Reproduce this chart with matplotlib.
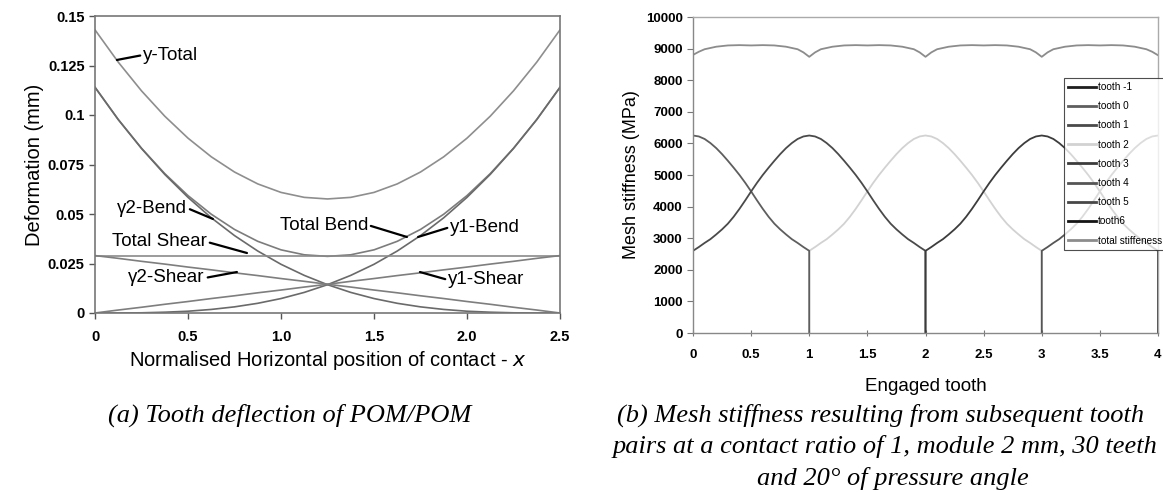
import matplotlib

matplotlib.use("Agg")
import matplotlib.pyplot as plt
import numpy as np

plt.rcParams["font.family"] = ["Liberation Sans", "DejaVu Sans"]

# (a) tooth deflection (mm)
pos_a = [0.0, 0.125, 0.25, 0.375, 0.5, 0.625, 0.75, 0.875, 1.0, 1.125, 1.25,
         1.375, 1.5, 1.625, 1.75, 1.875, 2.0, 2.125, 2.25, 2.375, 2.5]
y_total = [0.1430, 0.1267, 0.1122, 0.0994, 0.0883, 0.0789, 0.0712, 0.0652, 0.0609, 0.0584, 0.0576,
           0.0584, 0.0609, 0.0652, 0.0712, 0.0789, 0.0883, 0.0994, 0.1122, 0.1267, 0.1430]
total_bend = [0.1140, 0.0977, 0.0832, 0.0704, 0.0593, 0.0499, 0.0422, 0.0362, 0.0319, 0.0294, 0.0286,
              0.0294, 0.0319, 0.0362, 0.0422, 0.0499, 0.0593, 0.0704, 0.0832, 0.0977, 0.1140]
y1_bend = [0.0, 0.0000, 0.0001, 0.0004, 0.0009, 0.0018, 0.0031, 0.0049, 0.0073, 0.0104, 0.0143,
           0.0190, 0.0246, 0.0313, 0.0391, 0.0481, 0.0584, 0.0700, 0.0831, 0.0977, 0.1140]
y2_bend = [0.1140, 0.0977, 0.0831, 0.0700, 0.0584, 0.0481, 0.0391, 0.0313, 0.0246, 0.0190, 0.0143,
           0.0104, 0.0073, 0.0049, 0.0031, 0.0018, 0.0009, 0.0004, 0.0001, 0.0000, 0.0]
total_shear = [0.029] * 21
y1_shear = [0.0, 0.0015, 0.0029, 0.0044, 0.0058, 0.0073, 0.0087, 0.0102, 0.0116, 0.0131, 0.0145,
            0.0160, 0.0174, 0.0189, 0.0203, 0.0218, 0.0232, 0.0247, 0.0261, 0.0276, 0.0290]
y2_shear = [0.0290, 0.0276, 0.0261, 0.0247, 0.0232, 0.0218, 0.0203, 0.0189, 0.0174, 0.0160, 0.0145,
            0.0131, 0.0116, 0.0102, 0.0087, 0.0073, 0.0058, 0.0044, 0.0029, 0.0015, 0.0]

# (b) single tooth stiffness over its engagement (0..2 teeth), MPa
tooth_pos = [0.0, 0.0, 0.05, 0.1, 0.15, 0.2, 0.25, 0.3, 0.35, 0.4, 0.45, 0.5,
             0.55, 0.6, 0.65, 0.7, 0.75, 0.8, 0.85, 0.9, 0.95, 1.0,
             1.05, 1.1, 1.15, 1.2, 1.25, 1.3, 1.35, 1.4, 1.45, 1.5,
             1.55, 1.6, 1.65, 1.7, 1.75, 1.8, 1.85, 1.9, 1.95, 2.0, 2.0]
tooth_stiff = [0, 2600, 2720, 2850, 2970, 3120, 3280, 3460, 3680, 3930, 4200, 4480,
               4750, 5000, 5230, 5450, 5660, 5850, 6010, 6140, 6220, 6250,
               6220, 6140, 6010, 5850, 5660, 5450, 5230, 5000, 4750, 4480,
               4200, 3930, 3680, 3460, 3280, 3120, 2970, 2850, 2720, 2600, 0]
teeth = ["tooth -1", "tooth 0", "tooth 1", "tooth 2", "tooth 3", "tooth 4", "tooth 5", "tooth6"]
tooth_start = [-2, -1, 0, 1, 2, 3, 4, 5]
tooth_colors = ["#1e1e1e", "#5e5e5e", "#4a4a4a", "#d2d2d2", "#3c3c3c", "#555555", "#474747", "#151515"]

total_pos = [0.0, 0.05, 0.1, 0.2, 0.3, 0.4, 0.5, 0.6, 0.7, 0.8, 0.9, 0.95,
             1.0, 1.05, 1.1, 1.2, 1.3, 1.4, 1.5, 1.6, 1.7, 1.8, 1.9, 1.95,
             2.0, 2.05, 2.1, 2.2, 2.3, 2.4, 2.5, 2.6, 2.7, 2.8, 2.9, 2.95,
             3.0, 3.05, 3.1, 3.2, 3.3, 3.4, 3.5, 3.6, 3.7, 3.8, 3.9, 3.95, 4.0]
total_stiff = [8800, 8900, 8980, 9060, 9100, 9110, 9100, 9110, 9100, 9060, 8980, 8880,
               8740, 8880, 8980, 9060, 9100, 9110, 9100, 9110, 9100, 9060, 8980, 8880,
               8740, 8880, 8980, 9060, 9100, 9110, 9100, 9110, 9100, 9060, 8980, 8880,
               8740, 8880, 8980, 9060, 9100, 9110, 9100, 9110, 9100, 9060, 8980, 8900, 8790]

W, H = 1163, 492
fig = plt.figure(figsize=(W / 100, H / 100), dpi=100, facecolor="white")


def px_rect(x0, y0, x1, y1):
    return [x0 / W, 1 - y1 / H, (x1 - x0) / W, (y1 - y0) / H]


# ---------------- (a) ----------------
ax = fig.add_axes(px_rect(95, 16, 560, 313))
curves = [(y_total, "#8e8e8e"), (total_bend, "#7c7c7c"), (y1_bend, "#6a6a6a"),
          (y2_bend, "#6a6a6a"), (total_shear, "#8a8a8a"), (y1_shear, "#7e7e7e"),
          (y2_shear, "#7e7e7e")]
for vals, c in curves:
    ax.plot(pos_a, vals, color=c, lw=1.2)
ax.set_xlim(0, 2.5)
ax.set_ylim(0, 0.15)
ax.set_xticks([0, 0.5, 1.0, 1.5, 2.0, 2.5])
ax.set_xticklabels(["0", "0.5", "1.0", "1.5", "2.0", "2.5"])
ax.set_yticks([0, 0.025, 0.05, 0.075, 0.1, 0.125, 0.15])
ax.set_yticklabels(["0", "0.025", "0.05", "0.075", "0.1", "0.125", "0.15"])
ax.tick_params(direction="out", length=4, width=1, colors="#555555", labelcolor="black",
               labelsize=10.5)
ax.tick_params(axis="x", pad=8)
for lab in ax.get_xticklabels() + ax.get_yticklabels():
    lab.set_fontweight("bold")
for s in ax.spines.values():
    s.set_color("#777777")
    s.set_linewidth(1.2)
ax.set_ylabel("Deformation (mm)", fontsize=14.5, labelpad=3)
ax.set_xlabel("Normalised Horizontal position of contact - $\\mathit{x}$", fontsize=14.5, labelpad=4)

notes = [
    ("y-Total", (0.118, 0.1278), (0.258, 0.1303), "left"),
    ("γ2-Bend", (0.634, 0.0475), (0.495, 0.0530), "right"),
    ("Total Bend", (1.677, 0.0384), (1.468, 0.0444), "right"),
    ("y1-Bend", (1.737, 0.0384), (1.909, 0.0434), "left"),
    ("Total Shear", (0.817, 0.0303), (0.602, 0.0359), "right"),
    ("γ2-Shear", (0.763, 0.0207), (0.591, 0.0177), "right"),
    ("y1-Shear", (1.747, 0.0207), (1.898, 0.0167), "left"),
]
for text, xy, xytext, ha in notes:
    ax.annotate(text, xy=xy, xytext=xytext, ha=ha, va="center", fontsize=13.5,
                arrowprops=dict(arrowstyle="-", color="black", lw=1.6, shrinkA=0, shrinkB=0,
                                relpos=(1, 0.5) if ha == "right" else (0, 0.5)))

# ---------------- (b) ----------------
bx = fig.add_axes(px_rect(693, 17, 1158, 333))
handles = []
for name, start, c in zip(teeth, tooth_start, tooth_colors):
    # the pale tooth sits underneath the others where the end lines overlap
    z = 1.5 if name == "tooth 2" else 2
    h, = bx.plot(np.array(tooth_pos) + start, tooth_stiff, color=c, lw=1.3, label=name, zorder=z)
    handles.append(h)
h, = bx.plot(total_pos, total_stiff, color="#8c8c8c", lw=1.3, label="total stiffeness")
handles.append(h)
bx.set_xlim(0, 4)
bx.set_ylim(0, 10000)
bx.set_xticks([0, 0.5, 1, 1.5, 2, 2.5, 3, 3.5, 4])
bx.set_xticklabels(["0", "0.5", "1", "1.5", "2", "2.5", "3", "3.5", "4"])
bx.set_yticks(range(0, 10001, 1000))
bx.tick_params(axis="x", direction="inout", length=5, colors="#777777", labelcolor="black",
               labelsize=9.5, pad=9)
bx.tick_params(axis="y", direction="out", length=4, colors="#777777", labelcolor="black",
               labelsize=9.5)
for lab in bx.get_xticklabels() + bx.get_yticklabels():
    lab.set_fontweight("bold")
for s in bx.spines.values():
    s.set_color("#aaaaaa")
    s.set_linewidth(1.0)
bx.spines["left"].set_color("#888888")
bx.spines["bottom"].set_color("#888888")
bx.set_ylabel("Mesh stiffness (MPa)", fontsize=13, labelpad=4)
bx.set_xlabel("Engaged tooth", fontsize=13.5, labelpad=12)

leg = fig.legend(handles=handles, loc="upper left", bbox_to_anchor=(1064 / W, 1 - 78 / H),
                 bbox_transform=fig.transFigure, fontsize=7.2, frameon=True, fancybox=False,
                 borderaxespad=0, borderpad=0.4, handlelength=2.8, handletextpad=0.15,
                 labelspacing=0.92)
leg.get_frame().set_edgecolor("#222222")
leg.get_frame().set_linewidth(0.8)
for line in leg.get_lines():
    line.set_linewidth(2.0)

# captions
cap = dict(family=["Liberation Serif", "DejaVu Serif"], style="italic", fontsize=19,
           va="center")
fig.text(290 / W, 1 - 415 / H, "(a) Tooth deflection of POM/POM", ha="center", **cap)
fig.text(617 / W, 1 - 415 / H, "(b) Mesh stiffness resulting from subsequent tooth", ha="left", **cap)
fig.text(613 / W, 1 - 447 / H, "pairs at a contact ratio of 1, module 2 mm, 30 teeth", ha="left", **cap)
fig.text(893 / W, 1 - 478 / H, "and 20° of pressure angle", ha="center", **cap)

fig.savefig("out.png", dpi=100, facecolor="white")
